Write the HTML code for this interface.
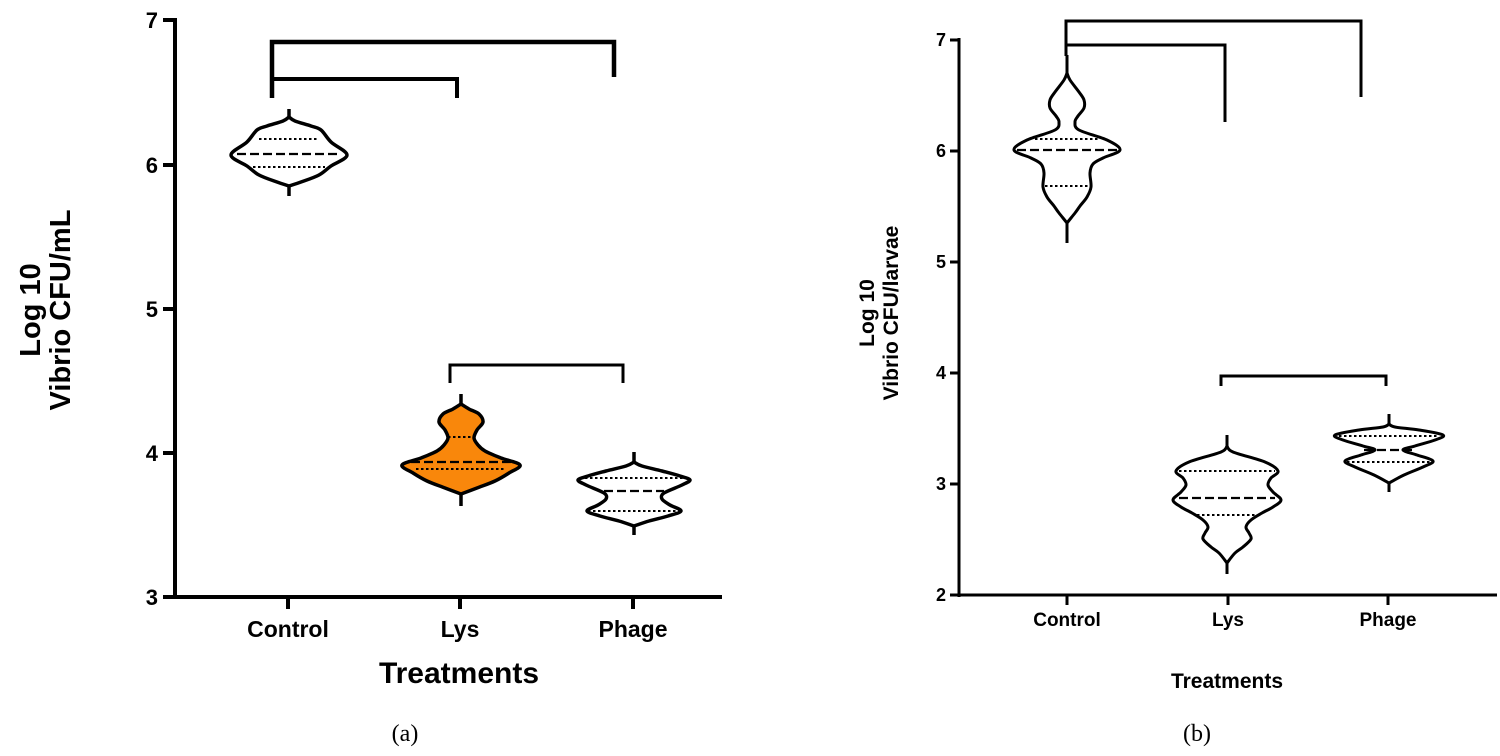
<!DOCTYPE html>
<html><head><meta charset="utf-8">
<style>
html,body{margin:0;padding:0;background:#fff;}
svg{display:block;}
text{font-family:"Liberation Sans",Arial,sans-serif;font-weight:bold;fill:#000;}
</style></head>
<body>
<svg id="s" width="1500" height="756" viewBox="0 0 1500 756" xmlns="http://www.w3.org/2000/svg">
<g id="g"></g>
<g stroke="#000" stroke-width="4" fill="none">
<line x1="175" y1="18" x2="175" y2="599"/>
<line x1="173" y1="597" x2="722" y2="597"/>
<line x1="163" y1="20" x2="175" y2="20"/>
<line x1="163" y1="165" x2="175" y2="165"/>
<line x1="163" y1="309" x2="175" y2="309"/>
<line x1="163" y1="453" x2="175" y2="453"/>
<line x1="163" y1="597" x2="175" y2="597"/>
<line x1="288" y1="597" x2="288" y2="609"/>
<line x1="460" y1="597" x2="460" y2="609"/>
<line x1="633" y1="597" x2="633" y2="609"/>
</g>
<g font-size="22" text-anchor="end">
<text x="158" y="28">7</text>
<text x="158" y="173">6</text>
<text x="158" y="317">5</text>
<text x="158" y="461">4</text>
<text x="158" y="605">3</text>
</g>
<g font-size="23" text-anchor="middle">
<text x="288" y="637">Control</text>
<text x="460" y="637">Lys</text>
<text x="633" y="637">Phage</text>
</g>
<text x="459" y="683" font-size="30" text-anchor="middle">Treatments</text>
<text transform="translate(40,310) rotate(-90)" font-size="29" text-anchor="middle">Log 10</text>
<text transform="translate(70,310) rotate(-90)" font-size="29" text-anchor="middle">Vibrio CFU/mL</text>
<text x="405" y="741" font-size="24" text-anchor="middle" style="font-family:'Liberation Serif',serif;font-weight:normal">(a)</text>
<g stroke="#000" fill="none" stroke-linecap="butt">
<polyline points="272,98 272,42 614,42 614,77" stroke-width="4.5"/>
<polyline points="272,98 272,79 457,79 457,98" stroke-width="4"/>
<polyline points="450,383 450,365 623,365 623,383" stroke-width="3"/>
</g>
<g stroke="#000" stroke-width="3" fill="none">
<line x1="959" y1="38" x2="959" y2="597"/>
<line x1="958" y1="595" x2="1497" y2="595"/>
<line x1="950" y1="40" x2="959" y2="40"/>
<line x1="950" y1="151" x2="959" y2="151"/>
<line x1="950" y1="262" x2="959" y2="262"/>
<line x1="950" y1="373" x2="959" y2="373"/>
<line x1="950" y1="484" x2="959" y2="484"/>
<line x1="950" y1="595" x2="959" y2="595"/>
<line x1="1067" y1="595" x2="1067" y2="605"/>
<line x1="1228" y1="595" x2="1228" y2="605"/>
<line x1="1388" y1="595" x2="1388" y2="605"/>
</g>
<g font-size="18" text-anchor="end">
<text x="946" y="46">7</text>
<text x="946" y="157">6</text>
<text x="946" y="268">5</text>
<text x="946" y="379">4</text>
<text x="946" y="490">3</text>
<text x="946" y="601">2</text>
</g>
<g font-size="19" text-anchor="middle">
<text x="1067" y="626">Control</text>
<text x="1228" y="626">Lys</text>
<text x="1388" y="626">Phage</text>
</g>
<text x="1227" y="688" font-size="21" text-anchor="middle">Treatments</text>
<text transform="translate(874,313) rotate(-90)" font-size="21" text-anchor="middle">Log 10</text>
<text transform="translate(898,313) rotate(-90)" font-size="21" text-anchor="middle">Vibrio CFU/larvae</text>
<text x="1197" y="741" font-size="24" text-anchor="middle" style="font-family:'Liberation Serif',serif;font-weight:normal">(b)</text>
<g stroke="#000" fill="none" stroke-width="3">
<polyline points="1066,56 1066,21 1361,21 1361,97"/>
<polyline points="1066,56 1066,45 1225,45 1225,122"/>
<polyline points="1221,386 1221,376 1386,376 1386,386"/>
</g>
</svg>
<script>
(function(){
var g=document.getElementById('g');
var NS='http://www.w3.org/2000/svg';
function smooth(pts){
  var d='M'+pts[0][0]+','+pts[0][1];
  for(var i=0;i<pts.length-1;i++){
    var p0=pts[i-1]||pts[i],p1=pts[i],p2=pts[i+1],p3=pts[i+2]||p2;
    var c1x=p1[0]+(p2[0]-p0[0])/6,c1y=p1[1]+(p2[1]-p0[1])/6;
    var c2x=p2[0]-(p3[0]-p1[0])/6,c2y=p2[1]-(p3[1]-p1[1])/6;
    d+=' C'+c1x.toFixed(1)+','+c1y.toFixed(1)+' '+c2x.toFixed(1)+','+c2y.toFixed(1)+' '+p2[0]+','+p2[1];
  }
  return d;
}
function el(n,a){var e=document.createElementNS(NS,n);for(var k in a)e.setAttribute(k,a[k]);g.appendChild(e);return e;}
function violin(cx,top,bot,prof,lines,fill,sw){
  var right=prof.map(function(p){return [cx+p[1],p[0]];});
  var left=prof.slice().reverse().map(function(p){return [cx-p[1],p[0]];});
  var d=smooth(right)+' L'+left[0][0]+','+left[0][1]+smooth(left).replace(/^M[^C]*/,' ')+' Z';
  el('path',{d:d,fill:fill,stroke:'#000','stroke-width':sw,'stroke-linejoin':'round'});
  el('line',{x1:cx,y1:top,x2:cx,y2:prof[0][0],stroke:'#000','stroke-width':sw});
  el('line',{x1:cx,y1:prof[prof.length-1][0],x2:cx,y2:bot,stroke:'#000','stroke-width':sw});
  lines.forEach(function(l){
    el('line',{x1:cx-l[1],y1:l[0],x2:cx+l[1],y2:l[0],stroke:'#000','stroke-width':l[2]?2.2:2,'stroke-dasharray':l[2]?'9,4':'2.5,2.5'});
  });
}
violin(289,109,196,[[117,0],[121,6],[126,22],[130,32],[142,42],[155,58],[166,42],[175,30],[182,12],[186,0]],
  [[139,30],[154,52,1],[167,36]],'#fff',3.5);
violin(461,394,506,[[404,0],[409,8],[414,18],[422,22],[430,16],[438,13],[445,17],[451,24],[458,40],[465,59],[473,48],[481,34],[488,16],[494,0]],
  [[437,13],[462,50,1],[469,45]],'#f9870b',3.5);
violin(634,452,535,[[462,0],[466,8],[471,28],[476,46],[480,56],[485,48],[493,30],[499,28],[505,36],[511,47],[516,34],[521,15],[526,0]],
  [[478,54],[491,30,1],[511,46]],'#fff',3.5);
violin(1067,55,243,[[73,0],[80,3],[92,12],[100,17],[108,17],[116,11],[122,8],[130,12],[140,40],[150,53],[158,36],[164,26],[173,23],[187,24],[197,20],[206,13],[213,8],[223,0]],
  [[139,32],[150,50,1],[186,22]],'#fff',3);
violin(1227,435,574,[[446,0],[452,6],[462,38],[471,51],[478,44],[485,41],[492,46],[500,54],[507,46],[513,35],[520,24],[527,19],[533,22],[539,24],[547,16],[553,8],[563,0]],
  [[471,48],[498,48,1],[515,30]],'#fff',3);
violin(1389,414,492,[[424,0],[427,6],[430,30],[435,54],[440,46],[446,26],[450,14],[455,28],[461,44],[467,34],[475,15],[483,0]],
  [[436,50],[450,25,1],[462,42]],'#fff',3);
})();
</script>
</body></html>
